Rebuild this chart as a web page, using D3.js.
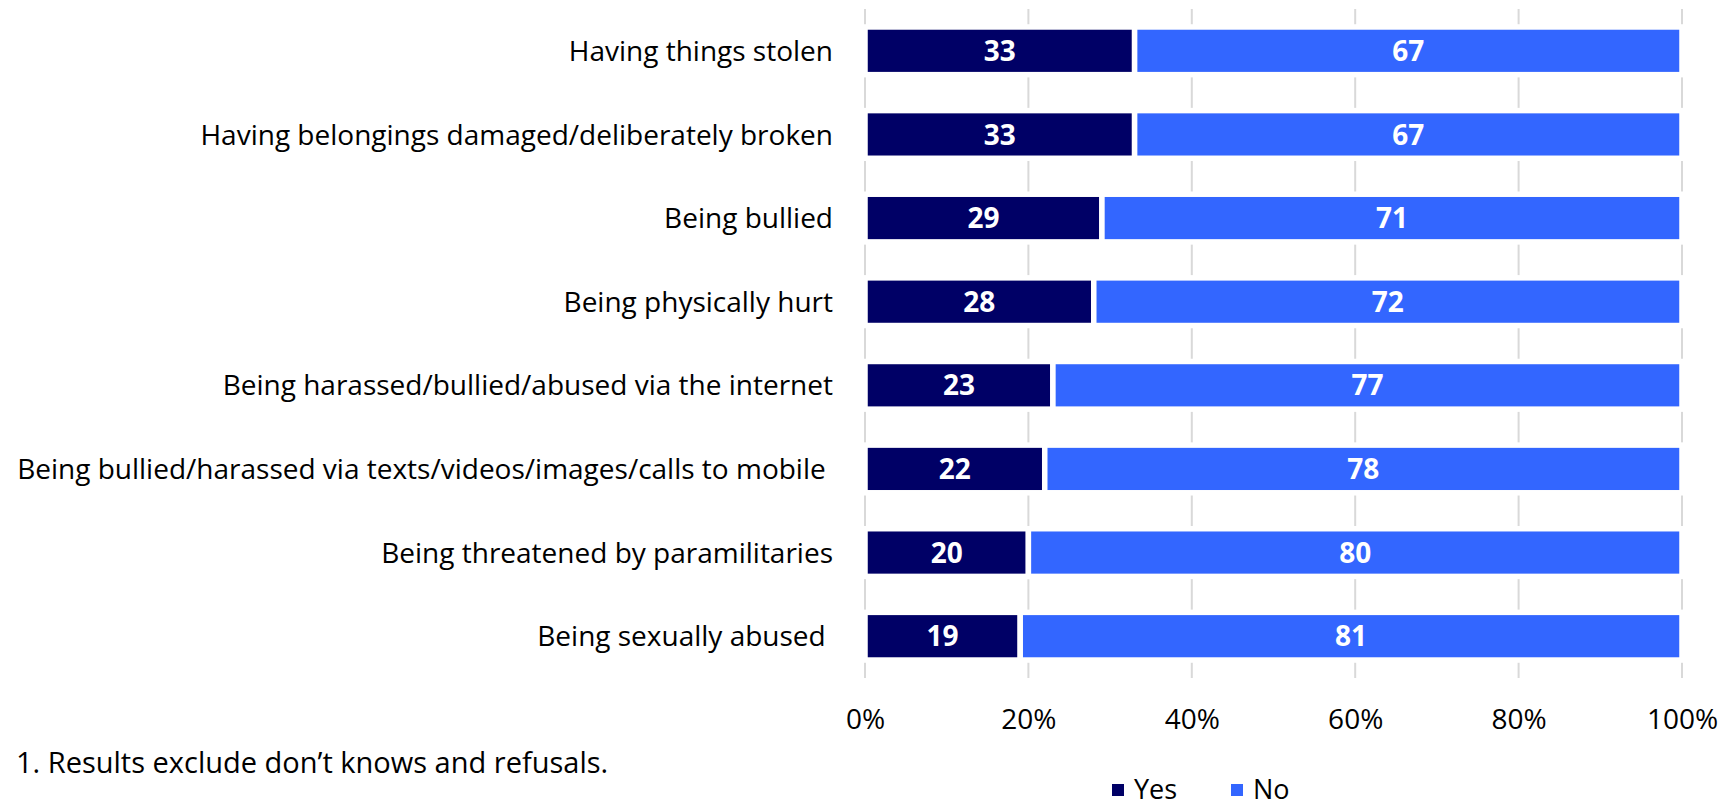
<!DOCTYPE html>
<html>
<head>
<meta charset="utf-8">
<script src="https://cdn.jsdelivr.net/npm/d3@7"></script>
<style>
  html, body { margin: 0; padding: 0; background: #fff; }
  svg { display: block; }
  text { font-family: "Open Sans", "Noto Sans", sans-serif; white-space: pre; }
</style>
</head>
<body>
<svg id="chart" width="1724" height="802"></svg>
<script>
// Experiences reported, share answering Yes / No (%)
const categories = [
  "Having things stolen",
  "Having belongings damaged/deliberately broken",
  "Being bullied",
  "Being physically hurt",
  "Being harassed/bullied/abused via the internet",
  "Being bullied/harassed via texts/videos/images/calls to mobile ",
  "Being threatened by paramilitaries",
  "Being sexually abused "
];
const yesValues = [33, 33, 29, 28, 23, 22, 20, 19];
const noValues  = [67, 67, 71, 72, 77, 78, 80, 81];
const seriesNames = ["Yes", "No"];
const tickValues = [0, 20, 40, 60, 80, 100];
const footnote = "1. Results exclude don\u2019t knows and refusals.";

const colors = { Yes: "#000066", No: "#3366ff" };

const svg = d3.select("#chart");

const x = d3.scaleLinear().domain([0, 100]).range([865, 1682]);
const y = d3.scaleBand()
  .domain(categories)
  .range([9, 678])
  .paddingInner(0.43)
  .paddingOuter(0.215);

// Vertical gridlines
svg.append("g")
  .selectAll("line")
  .data(tickValues)
  .join("line")
  .attr("x1", d => x(d)).attr("x2", d => x(d))
  .attr("y1", 9).attr("y2", 678)
  .attr("stroke", "#d9d9d9")
  .attr("stroke-width", 2);

// X axis tick labels
const xAxis = d3.axisBottom(x)
  .tickValues(tickValues)
  .tickFormat(d => d + "%")
  .tickSize(0)
  .tickPadding(0);
const gx = svg.append("g").attr("transform", "translate(0,708)").call(xAxis);
gx.select(".domain").remove();
gx.selectAll("text")
  .attr("font-family", null)
  .attr("font-size", 28)
  .attr("fill", "#000")
  .attr("dy", null)
  .attr("y", 21);

// Category labels
const yAxis = d3.axisLeft(y).tickSize(0).tickPadding(0);
const gy = svg.append("g").attr("transform", "translate(833,0)").call(yAxis);
gy.select(".domain").remove();
gy.selectAll("text")
  .attr("font-family", null)
  .attr("font-size", 28)
  .attr("fill", "#000")
  .attr("dy", "0.36em")
  .attr("x", 0);

// Stacked rows
const rows = categories.map((c, i) => ({ cat: c, Yes: yesValues[i], No: noValues[i] }));
const stacked = d3.stack().keys(seriesNames)(rows);

const layers = svg.append("g")
  .selectAll("g")
  .data(stacked)
  .join("g")
  .attr("fill", d => colors[d.key]);

layers.selectAll("rect")
  .data(d => d)
  .join("rect")
  .attr("x", d => x(d[0]))
  .attr("width", d => x(d[1]) - x(d[0]))
  .attr("y", d => y(d.data.cat))
  .attr("height", y.bandwidth())
  .attr("stroke", "#fff")
  .attr("stroke-width", 5.5);

// Value labels inside segments
layers.selectAll("text")
  .data(d => d.map(v => Object.assign({ key: d.key }, { v })))
  .join("text")
  .attr("x", d => (x(d.v[0]) + x(d.v[1])) / 2)
  .attr("y", d => y(d.v.data.cat) + y.bandwidth() / 2)
  .attr("dy", "0.36em")
  .attr("text-anchor", "middle")
  .attr("fill", "#fff")
  .attr("font-weight", 700)
  .attr("font-size", 28)
  .text(d => d.v.data[d.key]);

// Footnote
svg.append("text")
  .attr("x", 16)
  .attr("y", 773)
  .attr("font-size", 29)
  .attr("fill", "#000")
  .text(footnote);

// Legend
const legend = svg.append("g");
const legendX = [1112, 1231];
seriesNames.forEach((name, i) => {
  const g = legend.append("g").attr("transform", `translate(${legendX[i]},784)`);
  g.append("rect").attr("width", 12).attr("height", 12).attr("fill", colors[name]);
  g.append("text")
    .attr("x", 22)
    .attr("y", 15)
    .attr("font-size", 27)
    .attr("fill", "#000")
    .text(name);
});
</script>
</body>
</html>
